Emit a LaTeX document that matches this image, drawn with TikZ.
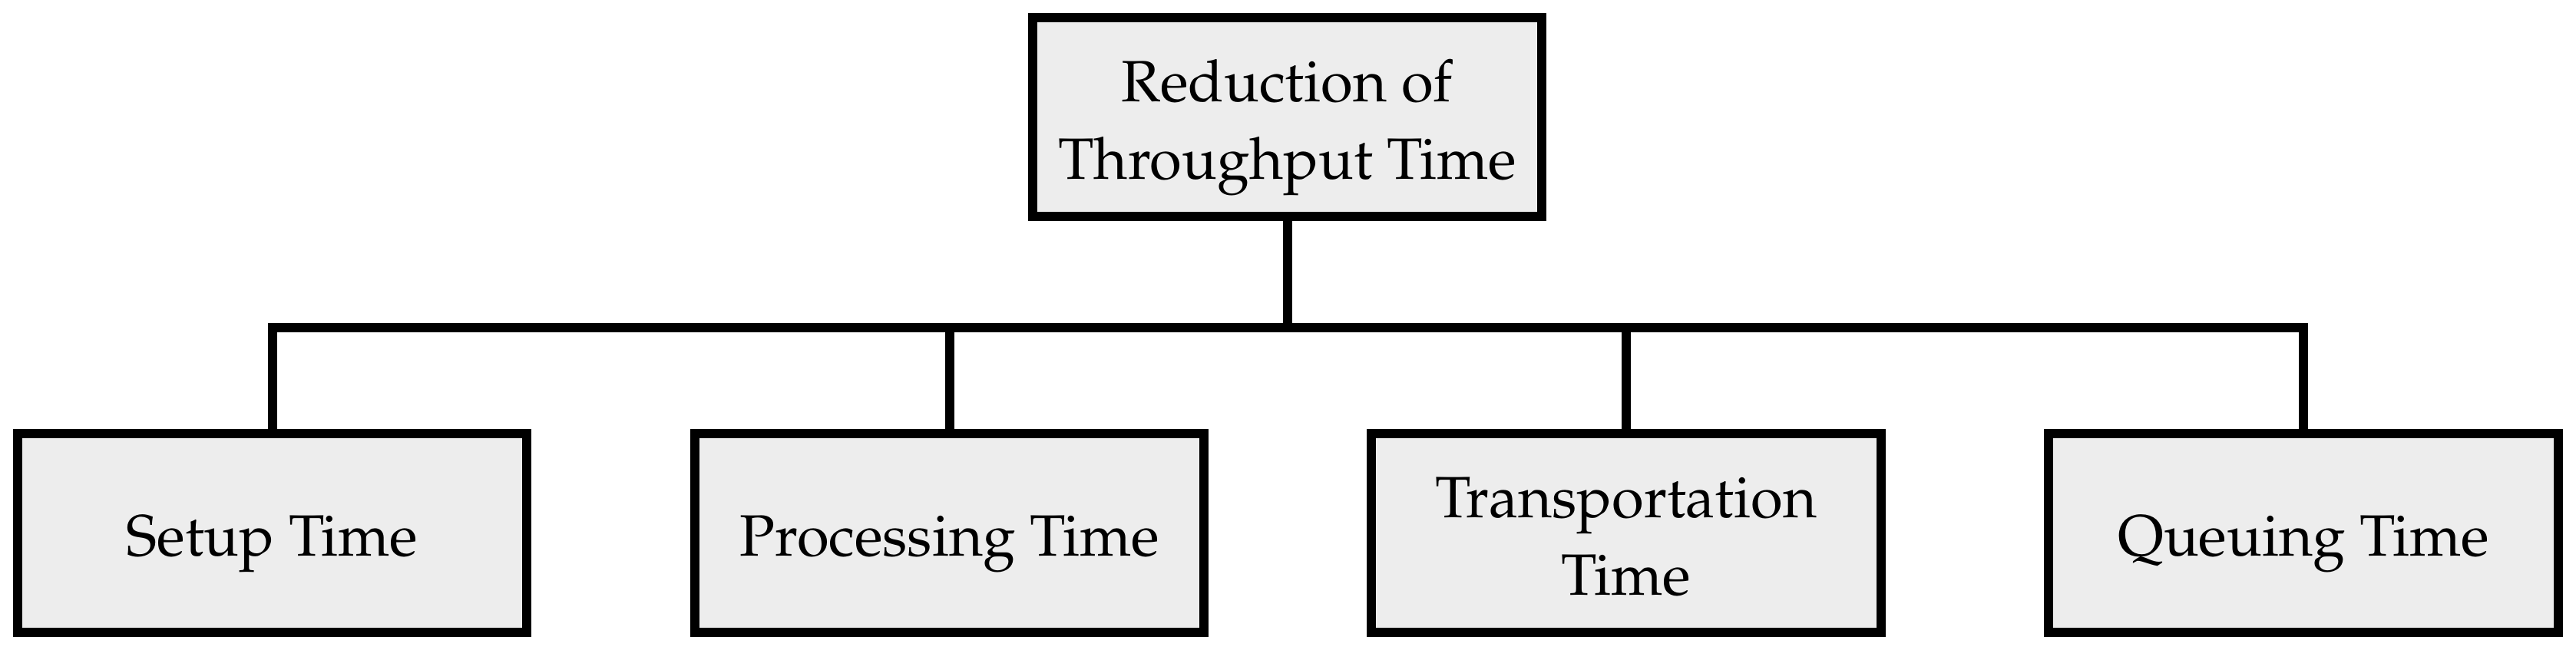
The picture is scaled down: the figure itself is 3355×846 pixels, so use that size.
\documentclass[tikz,border=0pt]{standalone}
\usepackage[T1]{fontenc}
\usepackage{mathpazo}
\definecolor{boxfill}{RGB}{237,237,237}
\newcommand{\bxl}[1]{\raisebox{0pt}[6.5pt][0.5pt]{#1}}
\tikzset{
  tbox/.style={draw=black, fill=boxfill, line width=1.2pt, minimum width=66.4pt, minimum height=25.9pt,
    inner sep=0pt, outer sep=0pt, align=center, font=\fontsize{7.6}{10.1}\selectfont},
  conn/.style={draw=black, line width=1.2pt, line join=miter}
}
\begin{document}
\begin{tikzpicture}[x=0.1pt,y=-0.1pt]
\useasboundingbox (0,0) rectangle (3355,846);
\node[tbox] (top) at (1676.5,152.5) {\bxl{Reduction of}\\\bxl{Throughput Time}};
\node[tbox] (b1) at (354.5,694.5) {\bxl{Setup Time}};
\node[tbox] (b2) at (1236.5,694.5) {\bxl{Processing Time}};
\node[tbox] (b3) at (2118,694.5) {\bxl{Transportation}\\\bxl{Time}};
\node[tbox] (b4) at (3000,694.5) {\bxl{Queuing Time}};
\coordinate (j) at (1676.5,427);
\coordinate (h1) at (b1.north |- j);
\coordinate (h2) at (b2.north |- j);
\coordinate (h3) at (b3.north |- j);
\coordinate (h4) at (b4.north |- j);
\draw[conn] (top.south) -- (j);
\draw[conn] (b1.north) -- (h1) -- (h4) -- (b4.north);
\draw[conn] (h2) -- (b2.north);
\draw[conn] (h3) -- (b3.north);
\end{tikzpicture}
\end{document}
